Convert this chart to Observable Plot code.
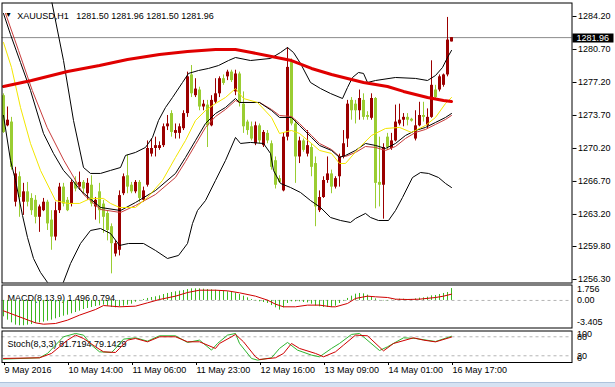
<!DOCTYPE html>
<html><head><meta charset="utf-8">
<script src="https://cdn.jsdelivr.net/npm/d3@7"></script>
<script src="https://cdn.jsdelivr.net/npm/@observablehq/plot@0.6"></script>
<style>
html,body{margin:0;padding:0;background:#fff;}
#chart{position:relative;width:615px;height:387px;overflow:hidden;background:#fff;}
#chart svg{position:absolute;left:0;}
#strip{position:absolute;left:0;top:382px;width:615px;height:5px;background:#d6e2f2;border-top:1px solid #aec3dc;}
</style></head><body><div id="chart"><div id="strip"></div></div>
<script>
// ---------- DATA ----------
const symbolText = "XAUUSD,H1";
const headerPrices = ["1281.50", "1281.96", "1281.50", "1281.96"];
const opens = [1275.8,1272.6,1273.0,1264.5,1267.2,1264.5,1265.6,1264.9,1264.7,1262.9,
1263.6,1264.5,1262.6,1260.8,1263.6,1266.1,1264.7,1264.3,1266.6,1266.1,
1266.6,1265.4,1266.3,1264.0,1265.6,1264.3,1263.3,1261.9,1259.0,1259.4,
1265.4,1267.3,1266.3,1265.6,1266.6,1264.7,1266.3,1269.6,1270.2,1270.2,
1270.5,1272.5,1273.9,1271.8,1271.8,1272.3,1273.9,1278.0,1275.8,1276.4,
1274.6,1274.8,1272.6,1275.1,1276.0,1277.6,1277.8,1278.3,1276.2,1278.1,
1274.9,1273.0,1272.5,1270.7,1272.6,1270.5,1271.8,1270.7,1268.9,1267.0,
1265.7,1271.4,1279.4,1272.8,1269.3,1271.0,1269.6,1270.3,1268.6,1263.6,
1265.0,1266.8,1267.5,1266.1,1267.2,1269.3,1271.2,1275.3,1274.9,1274.2,
1275.3,1273.7,1273.4,1275.5,1266.6,1266.3,1271.4,1270.2,1271.0,1272.8,
1273.2,1273.5,1273.3,1271.2,1272.6,1273.7,1272.6,1273.5,1276.4,1276.4,
1276.9,1278.0,1281.50];
const highs = [1276.0,1274.6,1273.5,1268.2,1267.7,1266.5,1266.6,1265.4,1265.2,1264.2,
1264.9,1264.7,1263.6,1264.5,1266.5,1266.5,1265.0,1266.8,1267.2,1267.7,
1266.8,1267.0,1267.3,1265.0,1266.5,1264.7,1263.6,1262.2,1260.4,1265.7,
1267.5,1269.5,1266.6,1266.8,1266.8,1266.1,1271.0,1271.2,1271.4,1270.9,
1272.8,1273.7,1274.2,1272.8,1272.8,1274.2,1278.3,1279.0,1277.6,1276.7,
1275.3,1275.3,1275.8,1277.6,1277.8,1278.0,1278.5,1278.5,1278.5,1278.3,
1276.2,1273.2,1273.0,1273.0,1272.8,1272.1,1272.1,1271.0,1269.3,1267.3,
1271.8,1280.9,1279.7,1273.2,1271.4,1271.2,1272.1,1270.7,1269.3,1265.7,
1267.2,1269.3,1267.9,1267.2,1269.6,1272.1,1275.3,1275.6,1275.3,1276.4,
1276.0,1274.1,1276.0,1275.6,1271.4,1270.7,1271.8,1271.8,1274.8,1274.9,
1273.9,1273.9,1273.4,1274.2,1275.1,1275.1,1274.4,1279.5,1276.9,1278.0,
1278.1,1284.1,1281.96];
const lows = [1271.8,1272.5,1267.9,1264.0,1262.9,1263.1,1264.0,1263.1,1262.2,1261.3,
1263.5,1261.5,1259.4,1260.4,1263.3,1264.0,1263.5,1264.0,1265.6,1265.8,
1265.4,1264.7,1264.0,1262.6,1262.2,1261.2,1260.4,1256.9,1258.7,1258.8,
1265.2,1265.4,1265.4,1265.4,1264.5,1264.5,1266.1,1269.3,1269.3,1270.0,
1270.3,1272.1,1271.4,1271.2,1271.2,1272.1,1273.5,1275.6,1275.6,1274.2,
1274.2,1270.3,1272.5,1274.9,1275.6,1276.9,1277.4,1277.2,1275.8,1274.6,
1271.8,1271.6,1271.0,1270.5,1270.7,1270.3,1270.7,1267.9,1265.9,1266.5,
1265.6,1271.0,1272.6,1266.5,1268.6,1269.8,1269.3,1267.2,1261.9,1263.4,
1264.9,1266.5,1265.4,1265.9,1266.1,1269.1,1270.3,1273.2,1272.8,1273.2,
1273.2,1273.2,1273.2,1263.8,1264.0,1262.7,1270.0,1270.0,1270.9,1272.6,
1272.5,1272.6,1273.0,1271.0,1272.5,1273.0,1272.3,1273.4,1275.5,1276.2,
1276.7,1277.8,1281.50];
const closes = [1271.9,1273.2,1268.2,1267.5,1265.0,1265.6,1264.5,1263.6,1262.9,1264.0,
1264.5,1262.2,1260.8,1263.6,1266.1,1264.3,1263.6,1266.6,1265.9,1266.6,
1265.9,1266.5,1264.3,1264.7,1263.6,1262.9,1261.5,1260.1,1260.1,1265.2,
1267.2,1266.1,1265.6,1266.6,1264.9,1265.7,1270.2,1270.2,1270.5,1270.5,
1272.5,1272.8,1271.9,1272.1,1272.5,1273.9,1277.8,1276.0,1276.5,1274.6,
1274.9,1272.6,1275.3,1276.0,1277.6,1277.1,1278.3,1277.4,1278.1,1275.0,
1272.5,1272.1,1271.2,1272.6,1271.0,1271.9,1271.0,1268.2,1266.3,1266.6,
1271.4,1278.8,1272.8,1269.3,1271.0,1270.0,1270.5,1268.2,1264.0,1265.0,
1266.8,1267.5,1266.1,1267.0,1269.3,1270.7,1274.9,1274.2,1274.2,1275.5,
1273.5,1273.5,1275.5,1266.5,1266.3,1270.3,1270.3,1271.0,1273.0,1273.2,
1273.5,1273.2,1273.1,1272.6,1273.7,1273.5,1273.5,1276.9,1275.6,1277.8,
1278.0,1281.7,1281.96];

// indicator lines: [bar index, value]
const maSlow = [[0,1276.78],[7,1277.41],[16,1278.37],[24,1279.00],[31,1279.64],[39,1280.17],[46,1280.49],[53,1280.70],[58,1280.70],[62,1280.38],[67,1279.96],[72,1279.53],[77,1278.69],[82,1278.05],[87,1277.52],[90,1277.20],[96,1276.78],[100,1276.25],[106,1275.61],[110,1275.29],[112,1275.18]];
const maFast = [[0,1281.44],[2,1278.79],[4.25,1274.55],[6.75,1270.73],[9.25,1267.87],[11.75,1265.74],[13,1264.68],[16,1264.37],[19,1264.37],[21.75,1264.90],[25,1264.90],[26.75,1264.37],[29,1263.94],[33,1263.94],[36,1265.00],[39.75,1266.81],[43,1269.25],[45.5,1271.05],[48,1273.17],[50.5,1274.23],[53,1274.97],[55.5,1275.61],[58,1276.56],[60,1275.50],[63.5,1275.08],[67,1273.49],[69,1271.79],[72,1272.11],[74,1271.79],[77,1270.73],[79,1269.99],[82,1269.67],[84,1268.61],[85.5,1268.61],[89,1270.31],[92,1271.58],[95.5,1272.32],[99,1272.43],[102,1271.90],[105.5,1272.64],[108,1273.49],[110.5,1274.97],[112,1275.61]];
const maMid = [[0.5,1284.52],[3.75,1280.60],[7.2,1276.35],[10.9,1272.43],[15.1,1268.93],[17.6,1267.12],[20,1265.32],[24.25,1263.73],[29.25,1263.41],[33,1264.15],[38,1265.32],[43,1267.13],[45.5,1268.82],[48,1270.62],[50.5,1272.43],[53,1273.59],[55.5,1274.34],[58,1275.29],[59,1275.08],[64,1275.08],[67,1274.34],[69,1273.70],[72,1273.59],[74,1272.85],[77,1271.58],[79,1270.73],[82,1270.09],[84,1269.35],[85.5,1269.35],[88,1269.78],[90.5,1270.41],[93,1270.31],[95.5,1269.99],[98,1270.41],[100.5,1271.26],[103,1271.90],[105.5,1272.22],[108,1272.75],[110.5,1273.28],[112,1273.70]];
const bandMid = [[0,1284.52],[1.75,1282.29],[4.25,1279.32],[6.75,1276.35],[10,1271.79],[12.5,1269.67],[15,1267.87],[17.25,1266.81],[19.25,1265.74],[24.25,1263.94],[29.25,1263.62],[33,1264.47],[38,1265.74],[43,1267.55],[45.5,1269.25],[48,1271.05],[50.5,1272.85],[53,1273.91],[55.5,1274.55],[58,1275.50],[59,1275.08],[64,1275.08],[67,1274.23],[69,1273.49],[72,1273.49],[74,1272.64],[77,1271.37],[79,1270.52],[82,1269.99],[84,1269.25],[85.5,1269.46],[88,1269.99],[90.5,1270.73],[93,1270.52],[95.5,1270.20],[98,1270.73],[100.5,1271.58],[103,1272.11],[105.5,1272.43],[108,1272.96],[110.5,1273.49],[112,1273.91]];
const bandUpper = [[10,1290.1],[12,1285.90],[15,1279.53],[17.5,1273.17],[20,1268.18],[21.75,1267.55],[24.25,1267.55],[26.75,1267.87],[29.25,1268.18],[30.5,1269.46],[33,1269.78],[35.5,1270.31],[37.25,1271.37],[38.75,1273.17],[40.5,1274.55],[42.25,1275.61],[44.75,1277.20],[46.25,1278.16],[48.75,1278.47],[51.25,1278.69],[53.75,1279.00],[56.25,1279.53],[58,1279.85],[61.75,1279.53],[66.75,1279.75],[69.25,1280.38],[71,1280.91],[72.5,1280.38],[74.25,1279.22],[76.75,1277.20],[79.25,1276.56],[81.75,1276.03],[84.75,1275.50],[86,1276.67],[87.25,1277.73],[88.75,1278.26],[90,1278.16],[91,1277.20],[93,1277.41],[98,1277.73],[103,1277.63],[106,1277.41],[108,1277.94],[109.75,1278.79],[111,1279.85],[112,1280.60]];
const bandLower = [[0,1273.70],[1.75,1268.93],[3,1266.81],[4.75,1263.09],[6,1260.76],[7.5,1258.53],[9.25,1257.05],[11,1255.99],[13,1255.14],[14.75,1255.77],[16.75,1257.99],[19.25,1260.12],[21.75,1261.50],[24.25,1261.71],[26.75,1261.18],[29,1259.91],[31.25,1260.12],[35,1260.12],[38,1259.38],[41,1258.53],[43.75,1258.85],[46,1260.12],[47.25,1262.24],[48.5,1263.62],[50.5,1264.68],[53,1266.81],[55.5,1268.93],[58,1271.37],[59.25,1270.73],[61.75,1270.84],[65,1270.73],[66.75,1269.67],[67.5,1267.87],[69.25,1266.49],[71.75,1266.06],[74.25,1265.53],[76.75,1264.68],[79.25,1263.94],[81.75,1262.88],[84.25,1262.56],[86.75,1262.35],[88,1262.77],[90.5,1263.31],[91.75,1262.88],[93.75,1262.56],[96.25,1262.56],[98,1263.62],[99.75,1265.00],[102.25,1267.12],[104.25,1267.65],[106.25,1267.55],[108.75,1267.12],[110.5,1266.49],[112,1266.06]];

const priceTicks = [1284.20,1280.70,1277.20,1273.70,1270.20,1266.70,1263.20,1259.80,1256.30];

const macdLabel = "MACD(8,13,9) 1.496 0.794";
const macdHist = [-2.06,-2.48,-2.82,-3.11,-3.19,-3.19,-3.11,-3.03,-2.90,-2.82,
-2.73,-2.61,-2.48,-2.31,-2.15,-1.98,-1.85,-1.68,-1.52,-1.35,
-1.14,-1.01,-0.89,-0.76,-0.68,-0.59,-0.72,-0.89,-0.93,-0.80,
-0.72,-0.59,-0.47,-0.22,-0.05,0.12,0.25,0.37,0.46,0.58,
0.75,0.88,1.00,1.09,1.17,1.25,1.38,1.46,1.46,1.46,
1.42,1.38,1.34,1.29,1.21,1.17,1.09,1.00,0.92,0.75,
0.54,0.33,0.12,-0.05,-0.17,-0.26,-0.38,-0.64,-0.93,-1.22,
-0.93,-0.38,-0.17,-0.17,-0.17,-0.26,-0.30,-0.47,-0.68,-0.80,
-0.89,-0.89,-0.89,-0.72,-0.38,-0.09,0.25,0.54,0.79,0.88,
0.83,0.67,0.46,0.20,-0.05,-0.05,-0.05,0.04,0.12,0.16,
0.16,0.12,0.12,0.20,0.29,0.33,0.41,0.58,0.62,0.75,
0.88,1.00,1.496];
const macdSignal = [[0,-1.31],[8,-2.82],[10,-2.99],[13,-2.90],[16,-2.48],[19,-1.85],[23,-1.14],[25,-0.64],[27,-0.72],[29,-0.80],[33,-0.72],[36,-0.30],[39,0.12],[43,0.54],[46,1.00],[49,1.29],[53,1.29],[56,1.21],[59,0.96],[63,0.54],[66,0.04],[68,-0.47],[70,-0.80],[73,-0.80],[76,-0.59],[79,-0.59],[82,-0.80],[83,-0.80],[86,-0.38],[88,0.25],[91,0.54],[93,0.46],[96,0.37],[98,0.16],[101,0.12],[104,0.16],[108,0.37],[110,0.54],[112,0.794]];
const macdAxisValues = [1.756, 0, -3.405];
const macdAxisLabels = ["1.756", "0.00", "-3.405"];

const stochLabel = "Stoch(8,3,3) 81.7194 79.1429";
const stochMain = [[0,9.5],[9,13.7],[11,27.4],[13,53.7],[15,80.0],[18,90.5],[20,85.3],[22,53.7],[24,32.6],[27,30.5],[28,43.2],[30,72.6],[33,76.8],[36,66.3],[39,83.2],[43,83.2],[46,62.1],[49,69.5],[52,37.9],[53.5,58.9],[56,85.3],[58,90.5],[59,58.9],[62,11.6],[63.5,6.3],[67,13.7],[69,43.2],[71,62.1],[73.5,37.9],[77,22.1],[79,16.8],[82,43.2],[84,58.9],[87,87.4],[89,90.5],[94,36.7],[96,48.4],[100,76.8],[103,74.7],[108,65.1],[112,81.72]];
const stochSignal = [[0,11.6],[9,13.7],[12,27.4],[14,48.4],[16,69.5],[18,85.3],[20,74.7],[23,48.4],[25,32.6],[28,30.5],[29,43.2],[31,69.5],[33,74.7],[36,64.2],[39,80.0],[43,80.0],[46,64.2],[49,64.2],[53,43.2],[54,58.9],[57,80.0],[58,87.4],[60,64.2],[63,16.8],[64,8.4],[68,13.7],[70,27.4],[72,58.9],[74,43.2],[78,27.4],[80,16.8],[83,32.6],[85,53.7],[88,85.3],[91,83.2],[95,35.6],[97.5,58.9],[102.5,76.8],[105,69.5],[108,64.0],[112,79.14]];
const stochAxisValues = [100, 80, 20, 0];
const stochAxisLabels = ["100", "80", "20", "0"];
const stochLevels = [80, 20];

const timeTickBars = [0,16,32,48,64,80,96,112];
const timeTickLabels = ["9 May 2016","10 May 14:00","11 May 06:00","11 May 23:00","12 May 16:00","13 May 09:00","14 May 01:00","16 May 17:00"];

// ---------- BUILD ----------
const W = 615;
const xDomain = [-0.375, 142.125];
const font = "'Liberation Sans', Arial, Helvetica, sans-serif";
const bull = "#9b0000", bear = "#9acd32";
const lastClose = closes[closes.length - 1];
const bars = opens.map((o, i) => ({k: i, o, h: highs[i], l: lows[i], c: closes[i]}));
const pts = a => a.map(([k, v]) => ({k, v}));
const style = {fontFamily: font, fontSize: "9px", background: "transparent", color: "black", overflow: "visible"};
const up = d => d.c >= d.o, dn = d => d.c < d.o;

function priceBox(index, scales, values, dimensions) {
  const y = Math.round(scales.y(lastClose)) + 1;
  const x0 = dimensions.width - dimensions.marginRight;
  const g = d3.create("svg:g");
  g.append("rect").attr("x", x0 + 1).attr("y", y - 4.5).attr("width", 41).attr("height", 9).attr("fill", "black");
  g.append("text").attr("x", x0 + 5).attr("y", y).attr("dy", "0.34em").attr("fill", "white")
    .attr("text-anchor", "start").attr("font-size", 9).attr("font-family", font).text(lastClose.toFixed(2));
  return g.node();
}

const main = Plot.plot({
  width: W, height: 284, marginLeft: 1.5, marginRight: 43.5, marginTop: 2.5, marginBottom: 1.5,
  x: {domain: xDomain, axis: null},
  y: {domain: [1255.929, 1285.632], axis: null},
  style,
  marks: [
    Plot.ruleY([lastClose], {stroke: "#8c8c8c"}),
    Plot.ruleX(bars, {filter: up, x: "k", y1: "l", y2: "h", stroke: bull}),
    Plot.ruleX(bars, {filter: dn, x: "k", y1: "l", y2: "h", stroke: bear}),
    Plot.ruleX(bars, {filter: up, x: "k", y1: "o", y2: "c", stroke: bull, strokeWidth: 3}),
    Plot.ruleX(bars, {filter: dn, x: "k", y1: "o", y2: "c", stroke: bear, strokeWidth: 3}),
    Plot.line(pts(bandUpper), {x: "k", y: "v", stroke: "black", strokeWidth: 1, clip: true}),
    Plot.line(pts(bandLower), {x: "k", y: "v", stroke: "black", strokeWidth: 1, clip: true}),
    Plot.line(pts(maMid), {x: "k", y: "v", stroke: "#c83c3c", strokeWidth: 1, clip: true}),
    Plot.line(pts(bandMid), {x: "k", y: "v", stroke: "black", strokeWidth: 1, clip: true}),
    Plot.line(pts(maFast), {x: "k", y: "v", stroke: "#f2e600", strokeWidth: 1, clip: true}),
    Plot.line(pts(maSlow), {x: "k", y: "v", stroke: "#e00000", strokeWidth: 3, clip: true}),
    Plot.frame({stroke: "black"}),
    Plot.axisY(priceTicks, {anchor: "right", label: null, tickSize: 4, tickPadding: 2, tickFormat: d => d.toFixed(2), fill: "black", stroke: "black"}),
    Plot.text(["\u25BC"], {frameAnchor: "top-left", dx: 6.5, dy: 9.5, fontSize: 7, textAnchor: "middle", text: d => d, fill: "black"}),
    Plot.text([symbolText + "\u00a0\u00a0\u00a0" + headerPrices.join(" ")], {frameAnchor: "top-left", dx: 15.2, dy: 9.5, textAnchor: "start", text: d => d, fill: "black"}),
    priceBox
  ]
});
main.style.top = "0px";

const macd = Plot.plot({
  width: W, height: 45, marginLeft: 1.5, marginRight: 43.5, marginTop: 0.5, marginBottom: 1.5,
  x: {domain: xDomain, axis: null},
  y: {domain: [-3.468, 1.945], axis: null},
  style,
  marks: [
    Plot.ruleY([0], {stroke: "#b4b4b4", strokeDasharray: "3,3"}),
    Plot.text([macdLabel], {frameAnchor: "top-left", dx: 5.5, dy: 9.5, textAnchor: "start", text: d => d, fill: "black"}),
    Plot.ruleX(macdHist.map((v, k) => ({k, v})), {x: "k", y1: 0, y2: "v", stroke: "#3cb81e", strokeWidth: 1}),
    Plot.line(pts(macdSignal), {x: "k", y: "v", stroke: "#d00000", strokeWidth: 1}),
    Plot.frame({stroke: "black"}),
    Plot.text([macdAxisValues[1]], {y: d => d, frameAnchor: "right", dx: 5, textAnchor: "start", text: () => macdAxisLabels[1], fill: "black"}),
    Plot.text([macdAxisValues[0]], {y: d => d, frameAnchor: "right", dx: 5, textAnchor: "start", lineAnchor: "top", dy: -0.5, text: () => macdAxisLabels[0], fill: "black"}),
    Plot.text([macdAxisValues[2]], {y: d => d, frameAnchor: "right", dx: 5, textAnchor: "start", lineAnchor: "bottom", dy: -2, text: () => macdAxisLabels[2], fill: "black"})
  ]
});
macd.style.top = "284px";

const stoch = Plot.plot({
  width: W, height: 53, marginLeft: 1.5, marginRight: 43.5, marginTop: 1.5, marginBottom: 20,
  x: {domain: xDomain, axis: null},
  y: {domain: [-1.17, 98.3], axis: null},
  style,
  marks: [
    Plot.ruleY(stochLevels, {stroke: "#b4b4b4", strokeDasharray: "3,3"}),
    Plot.text([stochLabel], {frameAnchor: "top-left", dx: 5.5, dy: 10, textAnchor: "start", text: d => d, fill: "black"}),
    Plot.line(pts(stochMain), {x: "k", y: "v", stroke: "#2fb52f", strokeWidth: 1}),
    Plot.line(pts(stochSignal), {x: "k", y: "v", stroke: "#d00000", strokeWidth: 1}),
    Plot.frame({stroke: "black"}),
    Plot.text([stochAxisValues[0]], {y: d => d, frameAnchor: "right", dx: 5, textAnchor: "start", lineAnchor: "top", dy: 0.5, text: () => stochAxisLabels[0], fill: "black"}),
    Plot.text(stochLevels, {y: d => d, frameAnchor: "right", dx: 5, textAnchor: "start", text: d => stochAxisLabels[stochAxisValues.indexOf(d)], fill: "black"}),
    Plot.text([stochAxisValues[3]], {y: d => d, frameAnchor: "right", dx: 5, textAnchor: "start", lineAnchor: "bottom", dy: -1, text: () => stochAxisLabels[3], fill: "black"}),
    Plot.axisX(timeTickBars, {anchor: "bottom", label: null, tickSize: 3, tickPadding: 1, textAnchor: "start", dx: 1,
      tickFormat: d => timeTickLabels[timeTickBars.indexOf(d)], fill: "black", stroke: "black"})
  ]
});
stoch.style.top = "329px";

const root = document.getElementById("chart");
root.appendChild(main);
root.appendChild(macd);
root.appendChild(stoch);
</script>
</body></html>
